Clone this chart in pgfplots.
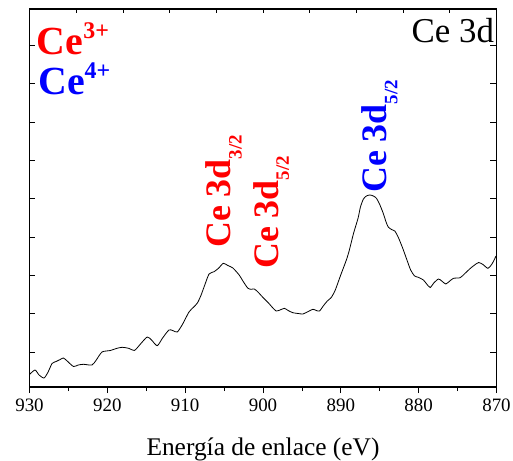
\documentclass[border=0pt]{standalone}
\usepackage{pgfplots}
\pgfplotsset{compat=1.18}
\usepackage{fontspec}
\setmainfont{Liberation Serif}

% XPS Ce 3d spectrum, intensity in arbitrary units
\pgfplotstableread{
x y
930.00 12.5
929.29 17
928.77 12
928.13 9
927.61 15
927.10 23.5
926.58 25.5
926.06 27.5
925.64 29
925.16 26
924.35 20.5
923.74 22
923.06 22.7
921.97 22
921.42 27
920.68 35
919.61 36.5
918.84 38.5
918.10 39.7
917.25 38.7
916.52 36.5
915.74 43
914.88 50
914.32 47
913.59 41.3
912.90 49
912.09 57
911.61 56.5
911.01 55
910.32 63
909.51 75
908.90 80
908.43 84
908.00 91
907.48 102
906.93 113
906.28 115.3
905.68 119
905.10 123.7
904.52 121.5
903.87 119
903.06 112
902.58 106
901.97 99
901.55 97.7
901.12 98
900.65 95
900.00 89.5
899.35 84.5
898.84 80
898.32 76
897.81 77
897.25 78.7
896.77 76.5
896.17 74.3
895.48 73.5
894.88 73
894.32 75
893.59 77.7
893.16 76.5
892.74 76
892.26 81
891.74 86
891.23 89.5
890.71 97
890.06 111
889.29 127
888.90 137
888.39 153
887.78 169
887.48 180
887.10 188
886.71 191
886.28 192
885.81 191
885.42 188.7
885.03 183
884.55 173.7
884.21 165.5
883.91 160
883.48 157.5
883.06 156
882.58 149
882.06 139
881.55 128
881.03 117
880.52 111
880.04 109.7
879.39 107
878.97 103
878.52 99.5
878.06 104
877.46 108
877.03 106
876.52 103
876.00 106
875.52 108.7
874.67 109.3
874.06 113.5
873.38 118.5
872.90 121.5
872.30 124.5
871.74 122.5
871.10 118.7
870.58 123
870.06 131
}\spectrum

\begin{document}
\begin{tikzpicture}
\useasboundingbox (-29.5bp,-74bp) rectangle (483.5bp,387bp);
% top ticks
\begin{axis}[
  at={(0,0)}, anchor=south west,
  scale only axis, width=467bp, height=378bp,
  xmin=0, xmax=10, ymin=0, ymax=1,
  xtick={1,...,9}, xticklabels={}, xtick pos=top,
  ytick=\empty,
  tick align=inside, major tick length=4bp,
  axis line style={draw=none},
  every tick/.style={black, line width=0.8bp},
]
\end{axis}
\begin{axis}[
  at={(0,0)}, anchor=south west,
  scale only axis, width=467bp, height=378bp,
  x dir=reverse,
  xmin=870, xmax=930, ymin=0, ymax=378,
  xtick={870,880,...,930}, minor x tick num=1,
  xtick pos=bottom, xtick align=outside,
  ytick={35,73.3,111.6,149.9,188.2,226.5,264.8,303.1,341.4},
  yticklabels={}, ytick align=inside,
  major tick length=6bp, minor tick length=4bp,
  axis line style={line width=1.1bp},
  every tick/.style={black, line width=0.8bp},
  /pgf/number format/assume math mode=true,
  xticklabel style={font=\fontsize{19}{19}\selectfont, yshift=-2bp},
  xlabel={Energía de enlace (eV)},
  xlabel style={font=\fontsize{25.5}{25.5}\selectfont, at={(rel axis cs:0.5,0)}, anchor=base, yshift=-68bp},
  clip=false,
]
\addplot[black, line width=0.8bp, smooth, tension=0.4] table {\spectrum};

\node[anchor=base west, text=red, font=\fontsize{40}{40}\selectfont\bfseries, inner sep=0pt]
  at (axis cs:929.07,332) {Ce\raisebox{0.42em}{\fontsize{24}{24}\selectfont 3+}};
\node[anchor=base west, text=blue, font=\fontsize{40}{40}\selectfont\bfseries, inner sep=0pt]
  at (axis cs:928.9,292) {Ce\raisebox{0.42em}{\fontsize{24}{24}\selectfont 4+}};
\node[anchor=base east, font=\fontsize{35}{35}\selectfont, inner sep=0pt]
  at (axis cs:870.3,344) {Ce 3d};

\node[rotate=90, anchor=base west, text=red, font=\fontsize{36}{36}\selectfont\bfseries, inner sep=0pt]
  at (axis cs:904.13,139) {Ce 3d\raisebox{-0.3em}{\fontsize{19}{19}\selectfont 3/2}};
\node[rotate=90, anchor=base west, text=red, font=\fontsize{36}{36}\selectfont\bfseries, inner sep=0pt]
  at (axis cs:898.06,118) {Ce 3d\raisebox{-0.3em}{\fontsize{19}{19}\selectfont 5/2}};
\node[rotate=90, anchor=base west, text=blue, font=\fontsize{36}{36}\selectfont\bfseries, inner sep=0pt]
  at (axis cs:884.13,194) {Ce 3d\raisebox{-0.3em}{\fontsize{19}{19}\selectfont 5/2}};
\end{axis}
\end{tikzpicture}
\end{document}
